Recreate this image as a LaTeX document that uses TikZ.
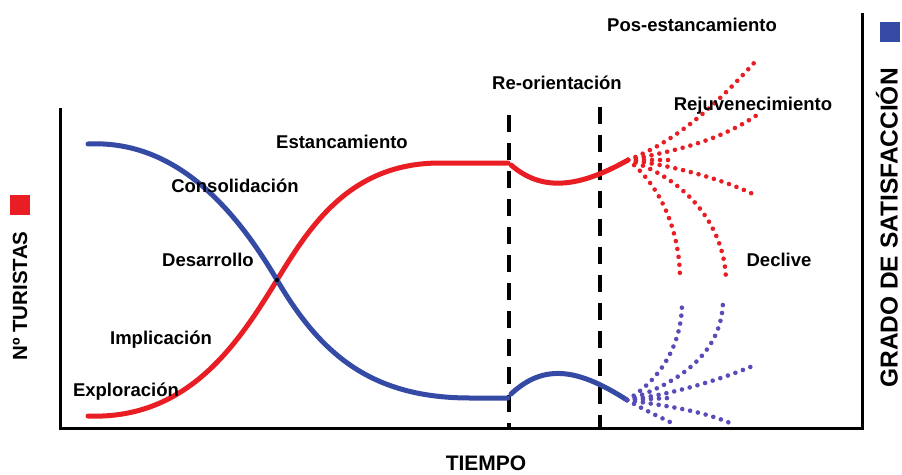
\documentclass[tikz,border=0pt]{standalone}
\usepackage{fontspec}
\setmainfont{Liberation Sans}
\definecolor{cred}{RGB}{232,30,36}
\definecolor{cblue}{RGB}{52,74,165}
\definecolor{dblue}{RGB}{88,76,185}
\tikzset{
  lbl/.style={font=\bfseries\fontsize{18.5}{20}\selectfont, inner sep=0pt, anchor=center},
  axis/.style={line width=3pt, black},
  vdash/.style={line width=3.5pt, black, dash pattern=on 17pt off 11pt},
  redc/.style={line width=5pt, cred, line cap=round},
  bluec/.style={line width=5pt, cblue, line cap=round},
  reddot/.style={line width=4.6pt, cred, line cap=round, dash pattern=on 0pt off 8pt},
  bluedot/.style={line width=4.6pt, dblue, line cap=round, dash pattern=on 0pt off 8pt},
}
\begin{document}
\begin{tikzpicture}[x=1pt,y=-1pt]
\useasboundingbox (0,0) rectangle (902,474);
\fill[white] (0,0) rectangle (902,474);
% axes
\coordinate (lt) at (60,108);
\coordinate (lb) at (60,428);
\coordinate (rb) at (862,428);
\coordinate (rt) at (862,13);
\draw[axis] (lt) -- (lb) -- (rb) -- (rt);
% dashed lines
\coordinate (d1t) at (509,115);
\coordinate (d1b) at (509,428);
\coordinate (d2t) at (600,107);
\coordinate (d2b) at (600,428);
\draw[vdash] (d1t) -- (d1b);
\draw[vdash] (d2t) -- (d2b);
% key points
\coordinate (R0) at (88,416);
\coordinate (X) at (277,280);
\coordinate (R1) at (440,163);
\coordinate (R2) at (508,163);
\coordinate (R3) at (511,165);
\coordinate (R) at (628,160);
\coordinate (B0) at (88,144);
\coordinate (B1) at (470,398);
\coordinate (B2) at (508,398);
\coordinate (B3) at (511,394);
\coordinate (B) at (627,400);
% red curve
\draw[redc] (R0) .. controls (190,420) and (240,340) .. (X)
  .. controls (310,226) and (350,163) .. (R1) -- (R2);
\draw[redc] (R3) .. controls (540,190) and (575,190) .. (R);
% blue curve
\draw[bluec] (B0) .. controls (170,140) and (230,200) .. (X)
  .. controls (320,353) and (370,398) .. (B1) -- (B2);
\draw[bluec] (B3) .. controls (545,362) and (580,370) .. (B);
\fill[black] (X) circle (2.2pt);
% red dotted
\coordinate (r1) at (754,63);
\coordinate (r2) at (757,115);
\coordinate (r3) at (672,160);
\coordinate (r4) at (755,195);
\coordinate (r5) at (680,280);
\coordinate (r6) at (726,282);
\draw[reddot] (R) .. controls (680,140) and (720,100) .. (r1);
\draw[reddot] (R) .. controls (680,150) and (720,140) .. (r2);
\draw[reddot] (R) -- (r3);
\draw[reddot] (R) .. controls (670,165) and (720,178) .. (r4);
\draw[reddot] (R) .. controls (660,185) and (680,230) .. (r5);
\draw[reddot] (R) .. controls (690,180) and (726,230) .. (r6);
% blue dotted
\coordinate (b1) at (682,303);
\coordinate (b2) at (723,300);
\coordinate (b3) at (755,365);
\coordinate (b4) at (670,398);
\coordinate (b5) at (730,423);
\coordinate (b6) at (672,423);
\draw[bluedot] (B) .. controls (660,380) and (682,345) .. (b1);
\draw[bluedot] (B) .. controls (690,380) and (723,345) .. (b2);
\draw[bluedot] (B) .. controls (670,395) and (720,380) .. (b3);
\draw[bluedot] (B) -- (b4);
\draw[bluedot] (B) .. controls (660,405) and (700,410) .. (b5);
\draw[bluedot] (B) .. controls (645,410) .. (b6);
% labels
\node[lbl] (pos) at (692,25) {Pos-estancamiento};
\node[lbl] (reo) at (557,83) {Re-orientación};
\node[lbl] (rej) at (753,106) {Rejuvenecimiento};
\node[lbl] (dec) at (779,260) {Declive};
\node[lbl] (est) at (342,142) {Estancamiento};
\node[lbl] (con) at (235,186) {Consolidación};
\node[lbl] (des) at (208,260) {Desarrollo};
\node[lbl] (imp) at (161,340) {Implicación};
\node[lbl] (exp) at (126,392) {Exploración};
\node[lbl, font=\bfseries\fontsize{21}{22}\selectfont] (tie) at (486,463) {TIEMPO};
\node[lbl, font=\bfseries\fontsize{20.5}{22}\selectfont, rotate=90] (tur) at (20,296) {Nº TURISTAS};
\node[fill=cred, minimum size=20pt, inner sep=0pt] (rsq) at (20,205) {};
\node[lbl, font=\bfseries\fontsize{24.5}{26}\selectfont, rotate=90] (gra) at (887,228) {GRADO DE SATISFACCIÓN};
\node[fill=cblue, minimum size=20pt, inner sep=0pt] (bsq) at (890,32) {};
\end{tikzpicture}
\end{document}
